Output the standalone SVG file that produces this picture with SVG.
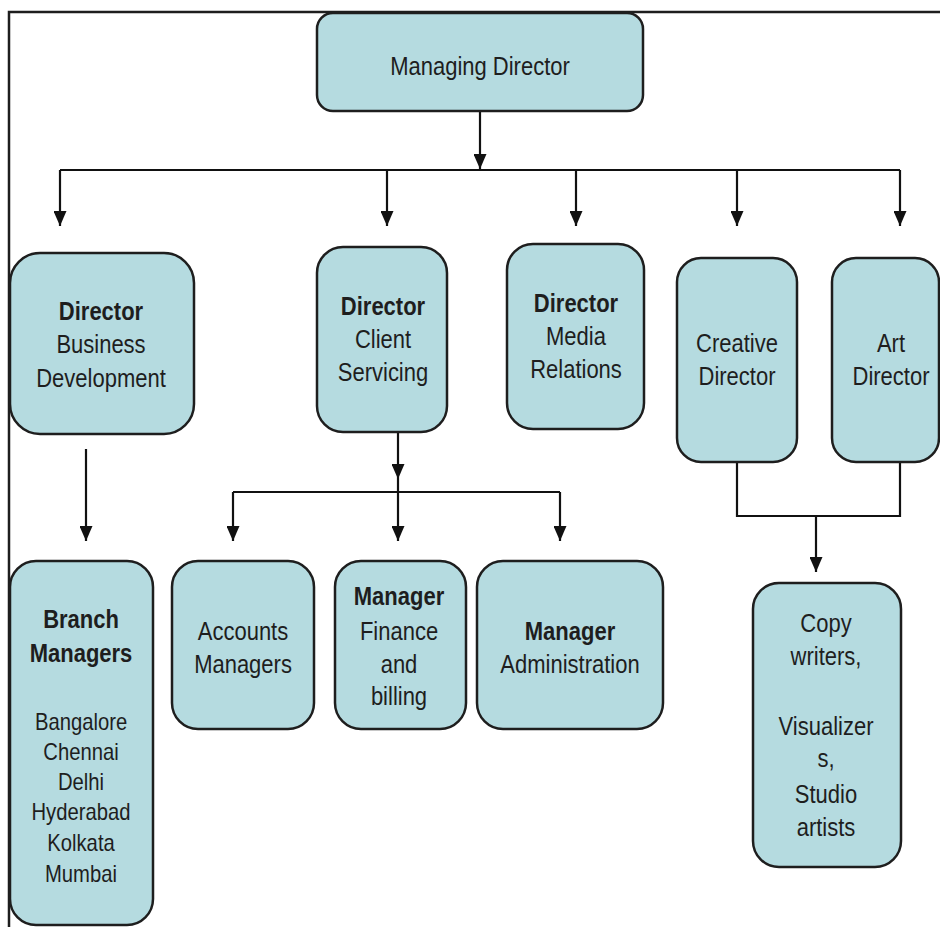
<svg xmlns="http://www.w3.org/2000/svg" width="940" height="927" viewBox="0 0 940 927">
<style>
.box{fill:#b5dbe0;stroke:#1e1e1e;stroke-width:2.5}
.t{font-family:"Liberation Sans",Arial,sans-serif;font-size:25px;fill:#1e1e1e;text-anchor:middle}
.b{font-weight:bold}
.s{font-size:23px}
.ln{fill:none;stroke:#111;stroke-width:2.2}
.frame{fill:none;stroke:#1e1e1e;stroke-width:2.5}
</style>
<defs>
<marker id="ah" markerUnits="userSpaceOnUse" markerWidth="15" markerHeight="13" refX="15" refY="6.5" orient="auto">
<path d="M0,0 L15,6.5 L0,13 z" fill="#111"/>
</marker>
</defs>
<rect width="940" height="927" fill="#fff"/>
<path class="frame" d="M9,927 V12 H940"/>

<g id="connectors">
<path class="ln" d="M480,111 V169" marker-end="url(#ah)"/>
<path class="ln" d="M60,170 H900"/>
<path class="ln" d="M60,170 V226" marker-end="url(#ah)"/>
<path class="ln" d="M387,170 V226" marker-end="url(#ah)"/>
<path class="ln" d="M576,170 V226" marker-end="url(#ah)"/>
<path class="ln" d="M737,170 V226" marker-end="url(#ah)"/>
<path class="ln" d="M900,170 V226" marker-end="url(#ah)"/>
<path class="ln" d="M86,449 V541" marker-end="url(#ah)"/>
<path class="ln" d="M398,432 V479" marker-end="url(#ah)"/>
<path class="ln" d="M233,492 H560"/>
<path class="ln" d="M233,492 V541" marker-end="url(#ah)"/>
<path class="ln" d="M398,479 V541" marker-end="url(#ah)"/>
<path class="ln" d="M560,492 V541" marker-end="url(#ah)"/>
<path class="ln" d="M737,462 V516 H900 V462"/>
<path class="ln" d="M816,516 V572" marker-end="url(#ah)"/>
</g>

<g id="managing-director">
<rect class="box" x="317" y="13" width="326" height="98" rx="16"/>
<g transform="translate(480,0) scale(0.88,1)"><text class="t" x="0" y="75">Managing Director</text></g>
</g>

<g id="director-business-development">
<rect class="box" x="10" y="253" width="184" height="181" rx="30"/>
<g transform="translate(101,0) scale(0.88,1)">
<text class="t b" x="0" y="320">Director</text>
<text class="t" x="0" y="353">Business</text>
<text class="t" x="0" y="387">Development</text>
</g>
</g>

<g id="director-client-servicing">
<rect class="box" x="317" y="247" width="130" height="185" rx="26"/>
<g transform="translate(383,0) scale(0.88,1)">
<text class="t b" x="0" y="315">Director</text>
<text class="t" x="0" y="348">Client</text>
<text class="t" x="0" y="381">Servicing</text>
</g>
</g>

<g id="director-media-relations">
<rect class="box" x="507" y="244" width="137" height="185" rx="26"/>
<g transform="translate(576,0) scale(0.88,1)">
<text class="t b" x="0" y="312">Director</text>
<text class="t" x="0" y="345">Media</text>
<text class="t" x="0" y="378">Relations</text>
</g>
</g>

<g id="creative-director">
<rect class="box" x="677" y="258" width="120" height="204" rx="24"/>
<g transform="translate(737,0) scale(0.88,1)">
<text class="t" x="0" y="352">Creative</text>
<text class="t" x="0" y="385">Director</text>
</g>
</g>

<g id="art-director">
<rect class="box" x="832" y="258" width="107" height="204" rx="24"/>
<g transform="translate(891,0) scale(0.88,1)">
<text class="t" x="0" y="352">Art</text>
<text class="t" x="0" y="385">Director</text>
</g>
</g>

<g id="branch-managers">
<rect class="box" x="10" y="561" width="143" height="364" rx="26"/>
<g transform="translate(81,0) scale(0.88,1)">
<text class="t b" x="0" y="628">Branch</text>
<text class="t b" x="0" y="662">Managers</text>
<text class="t s" x="0" y="730">Bangalore</text>
<text class="t s" x="0" y="760">Chennai</text>
<text class="t s" x="0" y="790">Delhi</text>
<text class="t s" x="0" y="820">Hyderabad</text>
<text class="t s" x="0" y="851">Kolkata</text>
<text class="t s" x="0" y="882">Mumbai</text>
</g>
</g>

<g id="accounts-managers">
<rect class="box" x="172" y="561" width="142" height="168" rx="26"/>
<g transform="translate(243,0) scale(0.88,1)">
<text class="t" x="0" y="640">Accounts</text>
<text class="t" x="0" y="673">Managers</text>
</g>
</g>

<g id="manager-finance">
<rect class="box" x="335" y="561" width="131" height="168" rx="26"/>
<g transform="translate(399,0) scale(0.88,1)">
<text class="t b" x="0" y="605">Manager</text>
<text class="t" x="0" y="640">Finance</text>
<text class="t" x="0" y="673">and</text>
<text class="t" x="0" y="705">billing</text>
</g>
</g>

<g id="manager-administration">
<rect class="box" x="477" y="561" width="186" height="168" rx="26"/>
<g transform="translate(570,0) scale(0.88,1)">
<text class="t b" x="0" y="640">Manager</text>
<text class="t" x="0" y="673">Administration</text>
</g>
</g>

<g id="copy-writers">
<rect class="box" x="753" y="583" width="148" height="284" rx="26"/>
<g transform="translate(826,0) scale(0.88,1)">
<text class="t" x="0" y="632">Copy</text>
<text class="t" x="0" y="665">writers,</text>
<text class="t" x="0" y="735">Visualizer</text>
<text class="t" x="0" y="767">s,</text>
<text class="t" x="0" y="803">Studio</text>
<text class="t" x="0" y="836">artists</text>
</g>
</g>
</svg>
